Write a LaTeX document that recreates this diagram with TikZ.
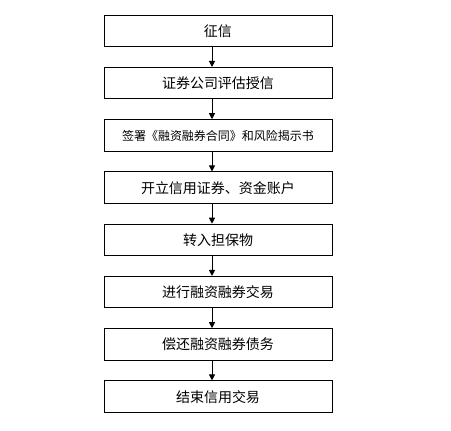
\documentclass[tikz,border=0pt]{standalone}
\usepackage{fontspec}
\setmainfont{Noto Sans CJK SC}
\usetikzlibrary{arrows.meta}
\tikzset{
  stepbox/.style={draw, line width=1pt, minimum width=228pt, minimum height=31.5pt,
    inner sep=0pt, font=\fontsize{14}{16}\selectfont},
  flow/.style={line width=1pt, -{Triangle[width=6pt,length=6pt]}}
}
\begin{document}
\begin{tikzpicture}[x=1pt, y=-1pt]
\useasboundingbox (0,0) rectangle (451,431);

\foreach \i/\t in {1/征信, 2/证券公司评估授信,
  3/{\fontsize{12}{14}\selectfont 签署《融资融券合同》和风险揭示书},
  4/开立信用证券、资金账户, 5/转入担保物, 6/进行融资融券交易,
  7/偿还融资融券债务, 8/结束信用交易} {
  \node[stepbox] (s\i) at (218, {31+52.24*(\i-1)}) {\t};
}

\foreach \i [evaluate=\i as \j using int(\i+1)] in {1,...,7} {
  \draw[flow] ([xshift=-6pt]s\i.south) -- ([xshift=-6pt]s\j.north);
}
\end{tikzpicture}
\end{document}
